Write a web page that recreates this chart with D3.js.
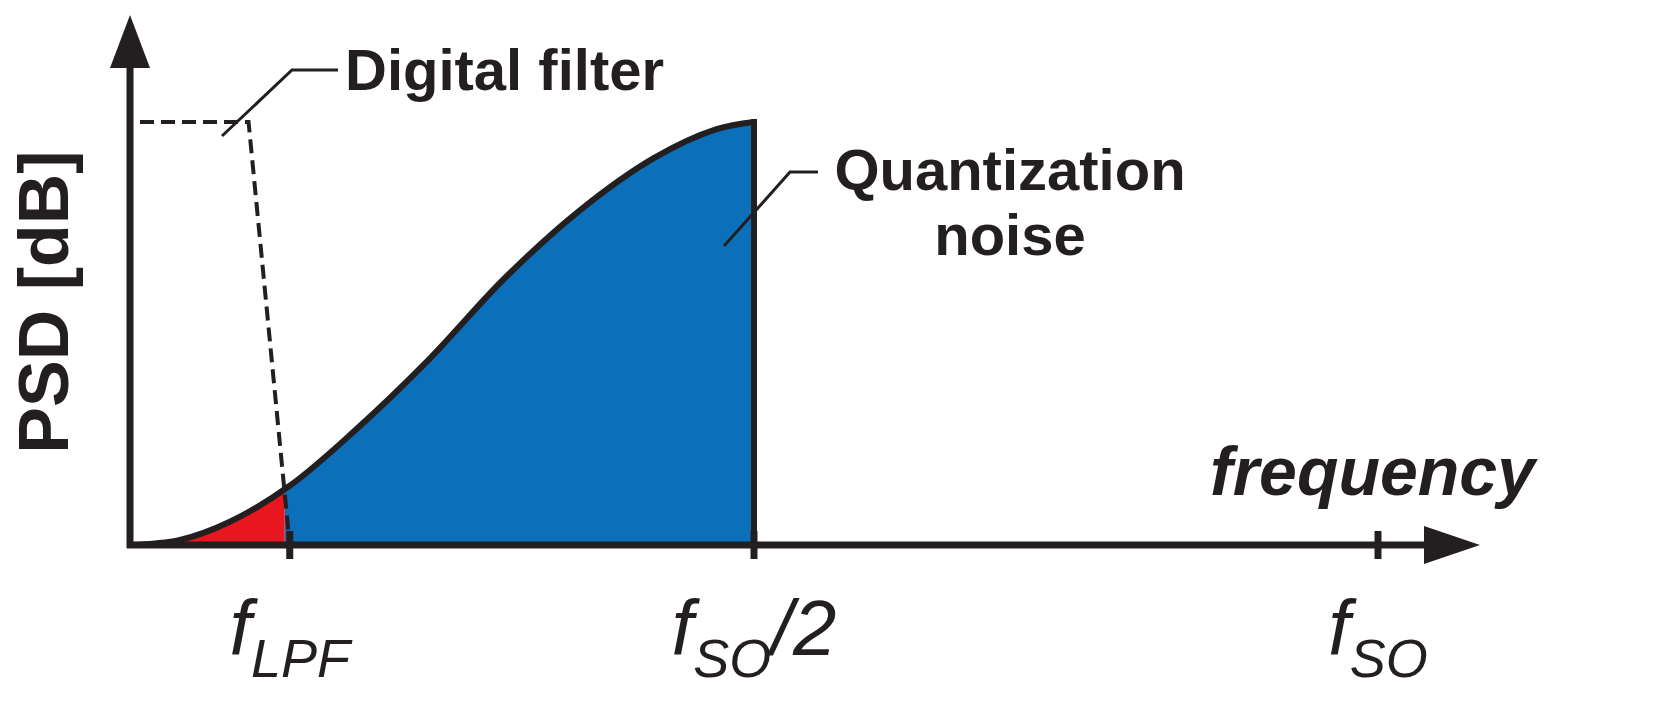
<!DOCTYPE html>
<html><head><meta charset="utf-8">
<script src="https://cdn.jsdelivr.net/npm/d3@7"></script>
<style>body{margin:0;background:#fff}text{font-family:"Liberation Sans",Arial,sans-serif;fill:#231f20}</style>
</head><body><svg id="c" width="1661" height="718"></svg>
<script>
// frequency normalised to fSO, PSD normalised to the noise peak
const noiseF = [0, 0.04, 0.08, 0.128, 0.18, 0.24, 0.3, 0.36, 0.42, 0.47, 0.5];
const noiseP = [0, 0.012, 0.055, 0.14, 0.27, 0.44, 0.63, 0.79, 0.915, 0.983, 1];
const filterF = [0.008, 0.095, 0.128];
const filterP = [1, 1, 0];
const fLPF = 0.124;
const ticks = [{f: 0.128, main: 'f', sub: 'LPF', tail: ''}, {f: 0.5, main: 'f', sub: 'SO', tail: '/2'}, {f: 1, main: 'f', sub: 'SO', tail: ''}];

const svg = d3.select('#c');
const x = d3.scaleLinear().domain([0, 1]).range([130, 1378]);
const y = d3.scaleLinear().domain([0, 1]).range([545, 122]);
const ink = '#231f20';

const pts = noiseF.map((f, i) => ({f, p: noiseP[i]}));
const area = d3.area().x(d => x(d.f)).y0(y(0)).y1(d => y(d.p)).curve(d3.curveCatmullRom);
const interp = f => {
  const i = d3.bisectRight(noiseF, f) - 1;
  const t = (f - noiseF[i]) / (noiseF[i + 1] - noiseF[i]);
  return noiseP[i] + t * (noiseP[i + 1] - noiseP[i]);
};
const cut = {f: fLPF, p: interp(fLPF)};
const redPts = pts.filter(d => d.f < fLPF).concat([cut]);
const bluePts = [cut].concat(pts.filter(d => d.f > fLPF));

svg.append('path').attr('d', area(bluePts)).attr('fill', '#0b6fba');
svg.append('path').attr('d', area(redPts)).attr('fill', '#e8161e');
svg.append('path').attr('d', d3.line().x(d => x(d.f)).y(d => y(d.p)).curve(d3.curveCatmullRom)(pts))
  .attr('fill', 'none').attr('stroke', ink).attr('stroke-width', 6);
svg.append('line').attr('x1', x(0.5)).attr('x2', x(0.5)).attr('y1', y(1) - 3).attr('y2', y(0))
  .attr('stroke', ink).attr('stroke-width', 6);

// digital filter dashed
svg.append('path').attr('d', d3.line().x((d, i) => x(filterF[i])).y(d => y(d))(filterP))
  .attr('fill', 'none').attr('stroke', ink).attr('stroke-width', 4).attr('stroke-dasharray', '14,7');

// axes
svg.append('line').attr('x1', x(0)).attr('x2', x(0)).attr('y1', y(0) + 3).attr('y2', 60).attr('stroke', ink).attr('stroke-width', 7);
svg.append('line').attr('x1', x(0) - 3).attr('x2', 1440).attr('y1', y(0)).attr('y2', y(0)).attr('stroke', ink).attr('stroke-width', 7);
svg.append('path').attr('d', `M${x(0)},15 L${x(0) - 20},68 L${x(0) + 20},68 Z`).attr('fill', ink);
svg.append('path').attr('d', `M1480,${y(0)} L1424,${y(0) - 19} L1424,${y(0) + 19} Z`).attr('fill', ink);

// ticks and labels
ticks.forEach(t => {
  svg.append('line').attr('x1', x(t.f)).attr('x2', x(t.f)).attr('y1', y(0) - 14).attr('y2', y(0) + 14)
    .attr('stroke', ink).attr('stroke-width', 7);
  const tx = svg.append('text').attr('x', x(t.f)).attr('y', 655).attr('text-anchor', 'middle')
    .attr('font-size', 78).attr('font-style', 'italic');
  tx.append('tspan').text(t.main);
  tx.append('tspan').attr('font-size', 54).attr('dy', 22).text(t.sub);
  if (t.tail) tx.append('tspan').attr('dy', -22).text(t.tail);
});

// annotations
const lead = (p) => svg.append('path').attr('d', d3.line()(p)).attr('fill', 'none').attr('stroke', ink).attr('stroke-width', 3);
lead([[222, 136], [292, 70], [338, 70]]);
lead([[724, 246], [790, 172], [818, 172]]);
svg.append('text').attr('x', 345).attr('y', 90).attr('font-size', 58).attr('font-weight', 'bold').text('Digital filter');
svg.append('text').attr('x', 1010).attr('y', 190).attr('text-anchor', 'middle').attr('font-size', 58).attr('font-weight', 'bold').text('Quantization');
svg.append('text').attr('x', 1010).attr('y', 255).attr('text-anchor', 'middle').attr('font-size', 58).attr('font-weight', 'bold').text('noise');
svg.append('text').attr('x', 1535).attr('y', 495).attr('text-anchor', 'end').attr('font-size', 68).attr('font-weight', 'bold').attr('font-style', 'italic').text('frequency');
svg.append('text').attr('transform', 'translate(68,302) rotate(-90)').attr('text-anchor', 'middle')
  .attr('font-size', 70).attr('font-weight', 'bold').text('PSD [dB]');
</script></body></html>
